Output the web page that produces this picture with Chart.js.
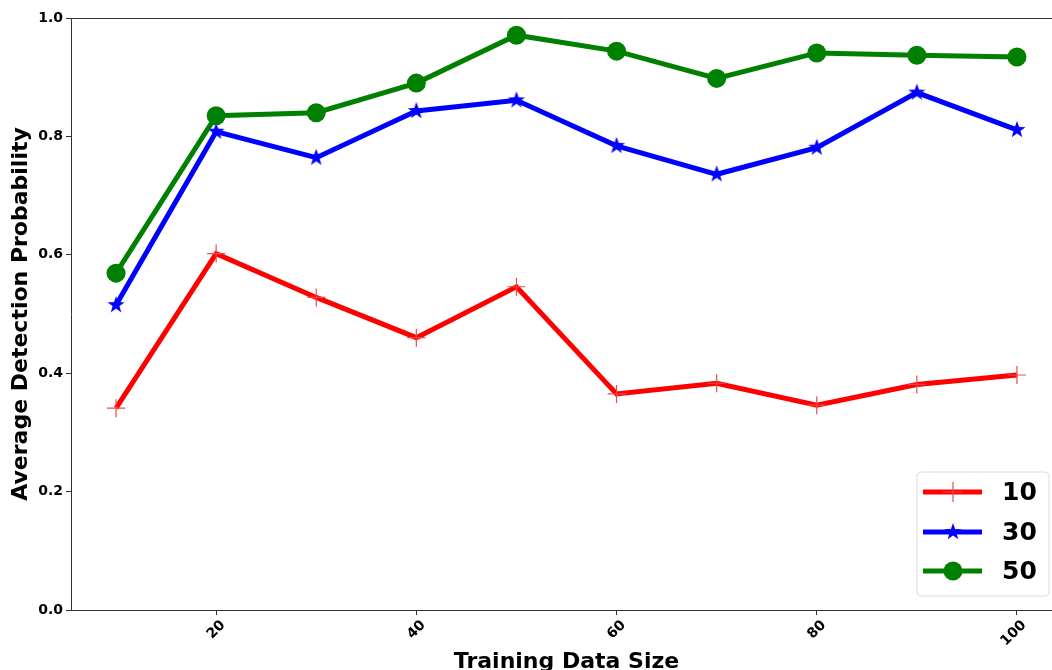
<!DOCTYPE html>
<html>
<head>
<meta charset="utf-8">
<script src="https://cdn.jsdelivr.net/npm/chart.js@4.4.1/dist/chart.umd.min.js"></script>
<style>
  html, body { margin: 0; padding: 0; background: #fff; overflow: hidden; }
  #wrap { position: absolute; left: 0; top: 0; width: 1076px; height: 680px; }
</style>
</head>
<body>
<div id="wrap"><canvas id="grafico" width="1076" height="680"></canvas></div>
<script>
// --- DATOS ---
const tamanos = [10, 20, 30, 40, 50, 60, 70, 80, 90, 100];
const serie10 = [0.341, 0.602, 0.528, 0.460, 0.546, 0.365, 0.383, 0.346, 0.381, 0.397];
const serie30 = [0.515, 0.808, 0.764, 0.843, 0.861, 0.784, 0.736, 0.781, 0.874, 0.811];
const serie50 = [0.569, 0.835, 0.840, 0.890, 0.971, 0.944, 0.898, 0.941, 0.937, 0.934];
const etiquetas = ['10', '30', '50'];
const ticksX = [20, 40, 60, 80, 100];
const ticksY = [0, 0.2, 0.4, 0.6, 0.8, 1.0];

const fuente = "'DejaVu Sans', sans-serif";

// estrella rellena de 5 puntas como imagen de marcador
function crearEstrella(radio, color) {
    const c = document.createElement('canvas');
    const lado = Math.ceil(radio * 2 + 2);
    c.width = lado; c.height = lado;
    const g = c.getContext('2d');
    const cx = lado / 2, cy = lado / 2, rin = radio * 0.4;
    g.beginPath();
    for (let i = 0; i < 10; i++) {
        const r = i % 2 === 0 ? radio : rin;
        const a = -Math.PI / 2 + i * Math.PI / 5;
        const px = cx + r * Math.cos(a), py = cy + r * Math.sin(a);
        if (i === 0) g.moveTo(px, py); else g.lineTo(px, py);
    }
    g.closePath();
    g.fillStyle = color;
    g.fill();
    return c;
}
const estrella = crearEstrella(9, '#0000ff');

const puntos = (arr) => tamanos.map((x, i) => ({ x: x, y: arr[i] }));

// marco superior y leyenda dentro del area
const marcoYLeyenda = {
    id: 'marcoYLeyenda',
    afterDraw(chart) {
        const { ctx, chartArea: a } = chart;
        ctx.save();
        ctx.strokeStyle = '#333';
        ctx.lineWidth = 1;
        ctx.beginPath();
        ctx.moveTo(a.left, a.top + 0.5);
        ctx.lineTo(a.right, a.top + 0.5);
        ctx.lineTo(a.right - 0.5, a.bottom);
        ctx.stroke();

        // caja de la leyenda
        const bx = 917, by = 472, bw = 132, bh = 124, rr = 4;
        ctx.beginPath();
        ctx.moveTo(bx + rr, by);
        ctx.arcTo(bx + bw, by, bx + bw, by + bh, rr);
        ctx.arcTo(bx + bw, by + bh, bx, by + bh, rr);
        ctx.arcTo(bx, by + bh, bx, by, rr);
        ctx.arcTo(bx, by, bx + bw, by, rr);
        ctx.closePath();
        ctx.fillStyle = 'rgba(255,255,255,0.8)';
        ctx.fill();
        ctx.strokeStyle = '#dcdcdc';
        ctx.stroke();

        const filas = [492, 532, 571];
        chart.data.datasets.forEach((ds, i) => {
            const y = filas[i];
            ctx.strokeStyle = ds.borderColor;
            ctx.lineWidth = ds.borderWidth;
            ctx.beginPath();
            ctx.moveTo(923, y);
            ctx.lineTo(982, y);
            ctx.stroke();
            const mx = 953;
            if (ds.pointStyle === 'cross') {
                ctx.strokeStyle = ds.pointBorderColor;
                ctx.lineWidth = 1.2;
                ctx.beginPath();
                ctx.moveTo(mx, y - 10); ctx.lineTo(mx, y + 10);
                ctx.moveTo(mx - 10, y); ctx.lineTo(mx + 10, y);
                ctx.stroke();
            } else if (ds.pointStyle === 'circle') {
                ctx.fillStyle = ds.pointBackgroundColor;
                ctx.beginPath();
                ctx.arc(mx, y, ds.pointRadius, 0, Math.PI * 2);
                ctx.fill();
            } else {
                ctx.drawImage(ds.pointStyle, mx - ds.pointStyle.width / 2, y - ds.pointStyle.height / 2);
            }
            ctx.fillStyle = '#000';
            ctx.font = "bold 25px " + fuente;
            ctx.textBaseline = 'middle';
            ctx.textAlign = 'left';
            ctx.fillText(ds.label, 1002, y + 1);
        });
        ctx.restore();
    }
};

const ctx = document.getElementById('grafico').getContext('2d');
new Chart(ctx, {
    type: 'line',
    data: {
        datasets: [
            {
                label: etiquetas[0],
                data: puntos(serie10),
                borderColor: '#ff0000',
                borderWidth: 5,
                pointStyle: 'cross',
                pointRadius: 9,
                pointBorderWidth: 1.2,
                pointBorderColor: '#f04848',
                pointBackgroundColor: '#ff0000',
                order: 3
            },
            {
                label: etiquetas[1],
                data: puntos(serie30),
                borderColor: '#0000ff',
                borderWidth: 5,
                pointStyle: estrella,
                pointRadius: 9,
                pointBackgroundColor: '#0000ff',
                order: 2
            },
            {
                label: etiquetas[2],
                data: puntos(serie50),
                borderColor: '#008000',
                borderWidth: 5,
                pointStyle: 'circle',
                pointRadius: 9.5,
                pointBorderWidth: 0,
                pointBackgroundColor: '#008000',
                pointBorderColor: '#008000',
                order: 1
            }
        ]
    },
    options: {
        responsive: false,
        animation: false,
        devicePixelRatio: 1,
        events: [],
        layout: { padding: { top: 18, right: 0, left: 0, bottom: 0 } },
        plugins: { legend: { display: false }, tooltip: { enabled: false } },
        elements: { line: { tension: 0 } },
        scales: {
            x: {
                type: 'linear',
                min: 5.5,
                max: 104.5,
                afterBuildTicks: (s) => { s.ticks = ticksX.map(v => ({ value: v })); },
                afterFit: (s) => { s.height = 70; s.paddingLeft = 0; s.paddingRight = 0; },
                grid: { drawOnChartArea: false, tickLength: 5, color: '#333' },
                border: { color: '#333', width: 1 },
                ticks: {
                    color: '#000',
                    font: { family: fuente, size: 14, weight: 'bold' },
                    minRotation: 45,
                    maxRotation: 45,
                    labelOffset: 7,
                    padding: 2
                },
                title: {
                    display: true,
                    text: 'Training Data Size',
                    color: '#000',
                    font: { family: fuente, size: 22, weight: 'bold' },
                    padding: { top: 0, bottom: 5 }
                }
            },
            y: {
                min: 0,
                max: 1,
                afterBuildTicks: (s) => { s.ticks = ticksY.map(v => ({ value: v })); },
                afterFit: (s) => { s.width = 71; },
                grid: { drawOnChartArea: false, tickLength: 5, color: '#333' },
                border: { color: '#333', width: 1 },
                ticks: {
                    color: '#000',
                    font: { family: fuente, size: 14, weight: 'bold' },
                    padding: 3,
                    callback: (v) => Number(v).toFixed(1)
                },
                title: {
                    display: true,
                    text: 'Average Detection Probability',
                    color: '#000',
                    font: { family: fuente, size: 22, weight: 'bold' },
                    padding: { top: 8, bottom: 0 }
                }
            }
        }
    },
    plugins: [marcoYLeyenda]
});
</script>
</body>
</html>
